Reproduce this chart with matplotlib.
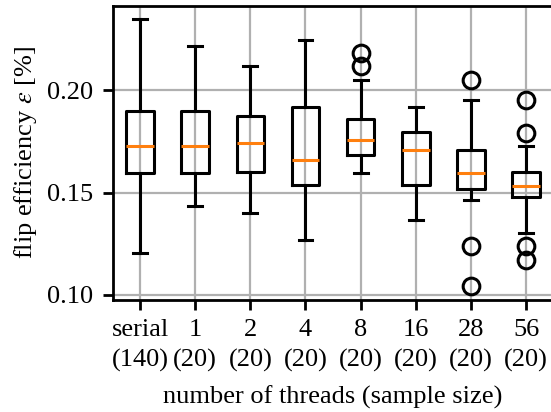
import matplotlib
matplotlib.use("Agg")
import matplotlib.pyplot as plt

plt.rcParams['font.family'] = ['Liberation Serif', 'DejaVu Serif']
plt.rcParams['mathtext.fontset'] = 'stix'
plt.rcParams['font.size'] = 9.5
plt.rcParams['axes.linewidth'] = 1.0

# box statistics
labels = ["serial\n(140)", "1\n(20)", "2\n(20)", "4\n(20)", "8\n(20)", "16\n(20)", "28\n(20)", "56\n(20)"]
whislo = [0.1203, 0.1433, 0.1401, 0.1270, 0.1595, 0.1366, 0.1463, 0.1302]
q1 = [0.1595, 0.1595, 0.1602, 0.1537, 0.1683, 0.1537, 0.1519, 0.1480]
med = [0.1725, 0.1725, 0.1740, 0.1659, 0.1756, 0.1707, 0.1595, 0.1530]
q3 = [0.1896, 0.1896, 0.1872, 0.1919, 0.1857, 0.1797, 0.1707, 0.1602]
whishi = [0.2345, 0.2213, 0.2115, 0.2245, 0.2049, 0.1919, 0.1953, 0.1725]
fliers = [[], [], [], [], [0.2179, 0.2119], [], [0.2049, 0.1237, 0.1044],
          [0.1953, 0.1790, 0.1237, 0.1172]]

stats = []
for i in range(len(labels)):
    stats.append(dict(whislo=whislo[i], q1=q1[i], med=med[i], q3=q3[i],
                      whishi=whishi[i], fliers=fliers[i]))

fig = plt.figure(figsize=(551 / 200, 412 / 200), dpi=200)
W, H = 551, 412
ax = fig.add_axes([112.5 / W, (H - 299.5) / H, (553.6 - 112.5) / W, (299.5 - 6) / H])

lw = 1.1
ax.bxp(stats, positions=range(1, len(labels) + 1), widths=0.5,
       boxprops=dict(linewidth=lw), whiskerprops=dict(linewidth=lw),
       capprops=dict(linewidth=lw), medianprops=dict(linewidth=lw, color='C1'),
       flierprops=dict(marker='o', markersize=6, markerfacecolor='none',
                       markeredgewidth=lw))
ax.set_xlim(0.5, 8.5)
ax.set_ylim(0.0978, 0.241)
ax.set_yticks([0.10, 0.15, 0.20])
ax.set_xticks(range(1, len(labels) + 1))
ax.set_xticklabels(labels, linespacing=1.45)
ax.tick_params(width=1.0)
ax.grid(True)
ax.set_axisbelow(True)

ax.set_xlabel("number of threads (sample size)", labelpad=5)
ax.set_ylabel(r"flip efficiency $\varepsilon$ [%]", labelpad=3)

fig.savefig("out.png", dpi=200)
